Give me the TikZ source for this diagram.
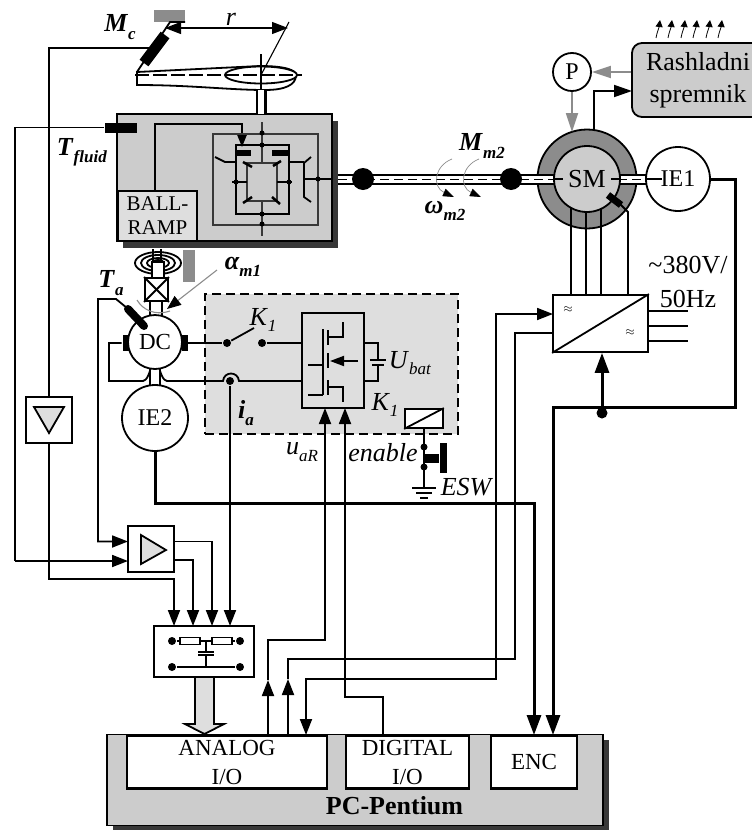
\documentclass[tikz,border=0pt]{standalone}
\usepackage{fontspec}
\setmainfont{Liberation Serif}
\usetikzlibrary{positioning,arrows.meta,shadows}
\definecolor{panel}{gray}{0.8}
\definecolor{pale}{gray}{0.87}
\definecolor{ringgray}{gray}{0.55}
\definecolor{shade}{gray}{0.22}
\newcommand{\sbf}[2]{\textbf{\textit{#1}}\raisebox{-.28em}{\fontsize{17}{17}\selectfont\textbf{\textit{#2}}}}
\newcommand{\sit}[2]{\textit{#1}\raisebox{-.25em}{\fontsize{17}{17}\selectfont\textit{#2}}}
\begin{document}
\begin{tikzpicture}[x=1pt,y=-1pt,on grid,line width=1.8pt,>={Triangle[length=16pt,width=12pt]}]
\tikzstyle{every node}=[font=\fontsize{23}{29}\selectfont,inner sep=0pt]
\tikzstyle{box}=[draw,rectangle,fill=white]
\tikzstyle{circ}=[draw,circle,fill=white]
\tikzstyle{dot}=[fill=black,circle,minimum size=8pt]
\tikzstyle{tiny dot}=[fill=black,circle,minimum size=5pt]
\tikzstyle{lbl}=[font=\fontsize{26}{32}\selectfont]
\tikzstyle{heavy}=[line width=3pt,>={Triangle[length=20pt,width=14pt]}]
\tikzstyle{thinline}=[line width=1.1pt]
\tikzstyle{graywire}=[draw=ringgray,line width=1.8pt,>={Triangle[length=19pt,width=12pt,color=ringgray]}]
\tikzstyle{sensor}=[line width=11pt]
\tikzstyle{shafta}=[line width=11pt]
\tikzstyle{shaftb}=[line width=7pt,white]
\tikzstyle{shaftc}=[line width=1pt,dash pattern=on 9pt off 5pt]
\tikzstyle{heat}=[line width=.8pt,>={Triangle[length=7pt,width=7pt]}]
\useasboundingbox (0,0) rectangle (752,830);

\node[box,fill=pale,dashed,dash pattern=on 9pt off 5pt,minimum width=253pt,minimum height=140pt](drive) at (331.5,364){};
\node[box,fill=panel,minimum width=215pt,minimum height=127pt,copy shadow={shadow xshift=6pt,shadow yshift=-7pt,fill=shade,draw=none}](gear) at (224.5,177.5){};
\node[box,fill=panel,minimum width=496pt,minimum height=91pt,copy shadow={shadow xshift=6pt,shadow yshift=-5pt,fill=shade,draw=none}](pc) at (355,780){};
\node[box,minimum width=200pt,minimum height=53pt,align=center,line width=2.2pt](analog) at (227,762){ANALOG\\I/O};
\node[box,minimum width=123pt,minimum height=53pt,align=center,line width=2.2pt](digital) at (407.5,762){DIGITAL\\I/O};
\node[box,minimum width=86pt,minimum height=53pt,line width=2.2pt](enc)[right=126.5pt of digital]{ENC};
\node[font=\fontsize{26}{30}\selectfont\bfseries](pentium) at (394.5,806){PC-Pentium};

% propeller
\node[fill=ringgray,minimum width=31pt,minimum height=12pt](mount) at (169.5,16){};
\coordinate(rleft) at (165,28);
\coordinate(rright) at (288,28);
\coordinate(hub) at (261,75);
\coordinate(tip) at (137,72);
\draw(tip)--(170,22)--(185,22);
\draw[sensor](144,63)--(165,35);
\coordinate(mcs) at (150,48);
\draw[fill=white](tip)--(137,85) .. controls (190,85) and (230,90) .. (265,90) .. controls (285,90) and (296,85) .. (296,75) .. controls (296,70) and (285,66) .. (260,66)--cycle;
\draw[fill=white](hub) ellipse (36 and 8.5);
\draw[thinline,dash pattern=on 14pt off 4pt](135,75)--(302,75);
\draw[thinline](261,54)--(261,90);
\draw[thinline](hub)--(289,22);
\draw[thinline,<->](rleft)--(rright);
\draw[line width=11pt](261,90)--(261,114);
\draw[line width=6pt,white](261,90)--(261,114);

% gear internals
\node[box,fill=pale,minimum width=79pt,minimum height=50pt,align=center,font=\fontsize{21}{24}\selectfont](ball) at (157.5,216){BALL-\\RAMP};
\node[fill=black,minimum width=32pt,minimum height=10pt](tfl) at (121,127.5){};
\coordinate(balltop) at (155,191);
\draw[->,>={Triangle[length=13pt,width=10pt]}](balltop)--(155,124)--(242,124)--(242,147);
\draw[draw=shade](213,134) rectangle (318,225);
\draw[line width=2.2pt](236,145) rectangle (289,214);
\draw[draw=shade,line width=2.2pt](247,163) rectangle (277,201);
\draw[draw=shade](262,122)--(262,163);
\draw[draw=shade](262,201)--(262,236);
\fill(236,150) rectangle (251,156);
\fill(272,150) rectangle (289,156);
\draw(236,162)--(225,162)--(215,157);
\draw(289,162)--(304,162);
\draw(311,157)--(304,163)--(304,197)--(311,202);
\draw(304,179)--(332,179);
\draw(232,182)--(247,182);
\draw(277,182)--(292,182);
\draw[line width=2.5pt](243,162)--(252,167);
\draw[line width=2.5pt](273,166)--(281,161);
\draw[line width=2.5pt](243,203)--(252,197);
\draw[line width=2.5pt](272,197)--(280,204);
\node[tiny dot](g1) at (262,133){};
\node[tiny dot](g2) at (262,145){};
\node[tiny dot](g3) at (262,214){};
\node[tiny dot](g4) at (262,224){};
\node[tiny dot](g5) at (236,182){};
\node[tiny dot](g6) at (289,182){};
\node[tiny dot](g7) at (318,179){};

% motors
\node[circ,fill=ringgray,minimum size=99pt](smo) at (587,179){};
\coordinate(shl) at (338,179);
\coordinate(shr) at (690,179);
\draw[shafta](shl)--(shr);
\draw[shaftb](shl)--(shr);
\draw[shaftc](shl)--(shr);
\coordinate(cv1) at (571,295);
\coordinate(cv2) at (586,295);
\coordinate(cv3) at (601,295);
\coordinate(cv4) at (628,295);
\draw(cv1)--(cv1 |- smo);
\draw(cv2)--(cv2 |- smo);
\draw(cv3)--(cv3 |- smo);
\node[circ,fill=panel,minimum size=66pt](sm) at (587,179){};
\draw[thinline](sm.west)--(563,179);
\draw[thinline](sm.east)--(611,179);
\node[font=\fontsize{26}{29}\selectfont](smtext) at (587,179){SM};
\draw(cv4)--(628,212)--(620,204);
\draw[line width=7pt](608,195)--(621,205);
\node[circ,minimum size=64pt,font=\fontsize{24}{29}\selectfont](ie1)[right=91pt of smo]{IE1};
\draw[thinline](ie1.west)--(662,179);
\node[circ,minimum size=38pt,font=\fontsize{24}{29}\selectfont](pump) at (572,72){P};
\node[box,fill=panel,rounded corners=10pt,minimum width=132pt,minimum height=74pt,align=center,lbl](tank) at (698,80){Rashladni\\spremnik};
\draw[graywire,->](tank.west |- pump)--(pump.east);
\draw[graywire,->](pump.south)--(572,132);
\coordinate(smtop) at (594,130);
\draw[->,>={Triangle[length=18pt,width=12pt]}](smtop)--(594,91)--(632,91);
\draw[heat,->](656,38) .. controls (657,32) and (659,28) .. (660,20);
\draw[heat,->](668,38) .. controls (669,32) and (671,28) .. (672,20);
\draw[heat,->](681,38) .. controls (682,32) and (684,28) .. (685,20);
\draw[heat,->](693,38) .. controls (694,32) and (696,28) .. (697,20);
\draw[heat,->](706,38) .. controls (707,32) and (709,28) .. (710,20);
\draw[heat,->](718,38) .. controls (719,32) and (721,28) .. (722,20);
\draw[line width=.7pt,draw=ringgray,->,>={Triangle[length=11pt,width=8pt,color=black]}](452,159) .. controls (434,166) and (432,187) .. (454,197);
\draw[line width=.7pt,draw=ringgray,->,>={Triangle[length=11pt,width=8pt,color=black]}](479,159) .. controls (461,166) and (459,187) .. (481,197);
\node[fill=black,circle,minimum size=22pt](b1) at (363,179){};
\node[fill=black,circle,minimum size=22pt](b2) at (511,179){};

% spring and coupling
\draw(158,263) ellipse (23 and 11);
\draw(158,263) ellipse (17 and 8);
\draw(158,263) ellipse (11 and 5);
\draw(158,263) ellipse (6 and 3);
\draw(153,249)--(153,262);
\draw(161,249)--(161,262);
\draw[fill=white](152,262) rectangle (164,278);
\node[fill=ringgray,minimum width=12pt,minimum height=32pt](brake) at (189,266){};
\node[box,minimum size=23pt](coup) at (156.5,289.5){};
\draw(coup.north west)--(coup.south east);
\draw(coup.north east)--(coup.south west);
\draw(150,301)--(150,318);
\draw(162,301)--(162,318);
\draw[thinline,draw=ringgray](137,300) .. controls (143,310) and (155,316) .. (170,311);
\node[circ,minimum size=54pt](dc) at (155,342){DC};
\node[fill=black,minimum width=6pt,minimum height=16pt](brl) at (125.5,343){};
\node[fill=black,minimum width=6pt,minimum height=16pt](brr) at (184.5,343){};
\node[circ,minimum size=66pt,font=\fontsize{24}{29}\selectfont](ie2) at (155,418){IE2};
\draw(150,369)--(150,385);
\draw(160,369)--(160,385);

% drive
\node[box,fill=pale,minimum width=62pt,minimum height=95pt](mos) at (333,360.5){};
\node[dot](k1a) at (227,343){};
\node[dot](k1b) at (262,343){};
\node[dot](iadot) at (230,381){};
\coordinate(mosa) at (302,343);
\coordinate(mosb) at (302,381);
\coordinate(mosc) at (364,343);
\coordinate(mosd) at (364,381);
\draw(brr.east)--(k1a);
\draw(k1a)--(254,328);
\draw(k1b)--(mosa);
\draw(brl.west)--(109,343)--(109,381)--(143,381) .. controls (147,380) and (148,376) .. (150,371);
\draw(160,371) .. controls (162,376) and (163,380) .. (167,381)--(223,381) .. controls (224,371) and (238,371) .. (239,381)--(mosb);
\draw(mosc)--(378,343)--(378,360);
\draw(378,365)--(378,381)--(mosd);
\draw(370,360)--(386,360);
\draw[line width=2.5pt](372,365)--(384,365);
\draw(323,329)--(323,395);
\draw[line width=2.2pt](328,330)--(328,345);
\draw[line width=2.2pt](328,353)--(328,368);
\draw[line width=2.2pt](328,380)--(328,395);
\draw(328,337)--(343,337)--(343,322);
\draw(308,365)--(323,365);
\draw(308,395)--(323,395);
\draw(328,387)--(343,387)--(343,402);
\draw[->,>={Triangle[length=14pt,width=10pt]}](358,361)--(330,361);
\node[box,minimum width=38pt,minimum height=19pt](relay) at (424,418.5){};
\draw(relay.south west)--(relay.north east);
\coordinate(gnd) at (424,488);
\draw(relay.south)--(gnd);
\node[dot,minimum size=7pt](sw1) at (424,447){};
\node[dot,minimum size=7pt](sw2) at (424,467){};
\draw[line width=9pt](424,458)--(439,458);
\draw[line width=7pt](443,443)--(443,473);
\draw(412,488)--(436,488);
\draw(416,493)--(432,493);
\draw(420,498)--(428,498);

% converter
\node[box,minimum width=95pt,minimum height=57pt](conv) at (600.5,323.5){};
\draw(conv.south west)--(conv.north east);
\node[font=\fontsize{13}{13}\selectfont](ac1) at (568,310){$\approx$};
\node[font=\fontsize{13}{13}\selectfont](ac2) at (630,333){$\approx$};
\draw(conv.east |- 0,311)--(688,311);
\draw(conv.east |- 0,326)--(688,326);
\draw(conv.east |- 0,341)--(688,341);

% filter and amplifier
\node[box,minimum width=100pt,minimum height=51pt](filter) at (204,651.5){};
\node[dot](f1) at (172,641){};
\node[dot](f2) at (240,641){};
\node[dot](f3) at (172,667){};
\node[dot](f4) at (240,667){};
\draw[thinline](f1)--(f2);
\node[box,thinline,minimum width=20pt,minimum height=7pt](r1) at (190,641){};
\node[box,thinline,minimum width=20pt,minimum height=7pt](r2) at (222,641){};
\draw(f3)--(f4);
\draw[thinline](206,641)--(206,652);
\draw[thinline](206,655)--(206,667);
\draw(198,652)--(214,652);
\draw(198,655)--(214,655);
\node[box,minimum size=46pt](amp) at (151,549){};
\draw[fill=pale](141,535)--(166,550)--(141,564)--cycle;
\node[box,minimum size=46pt](inv) at (49,420){};
\draw[fill=pale](34,407)--(64,407)--(49,433)--cycle;
\draw[fill=pale](195,677)--(195,724)--(185,724)--(204.5,734)--(224,724)--(214,724)--(214,677)--cycle;

% wires
\coordinate(fa) at (174,626);
\coordinate(fb) at (193,626);
\coordinate(fc) at (212,626);
\coordinate(fd) at (230,626);
\coordinate(ampa) at (128,541.5);
\coordinate(ampb) at (128,561);
\coordinate(ampc) at (174,541.5);
\coordinate(ampd) at (174,560);
\coordinate(tas) at (127,308);
\draw(mcs)-|(inv.north);
\draw[->](inv.south)--(49,579)--(174,579)--(fa);
\draw(tfl.west)--(15,127.5)--(15,561);
\draw[->](15,561)--(ampb);
\draw[->](tas)--(116,299)--(98,299)--(98,541.5)--(ampa);
\draw[->](ampc)-|(fc);
\draw[->](ampd)-|(fb);
\draw[->](iadot)--(fd);
\draw[line width=8pt,line cap=round](128,309)--(144,326);
\coordinate(an1) at (268,735);
\coordinate(an2) at (288,735);
\coordinate(an3) at (306,735);
\coordinate(dg1) at (383,735);
\coordinate(ua) at (326,408);
\coordinate(en) at (345,408);
\coordinate(cvl1) at (553,314);
\coordinate(cvl2) at (553,333);
\coordinate(enc1) at (534,735);
\coordinate(enc2) at (553,735);
\draw[->](an1)--(268,680);
\draw[->](268,680)--(268,640)--(325,640)--(ua -| 325,0);
\draw[->](an2)--(288,679);
\draw(288,679)--(288,659)--(515,659)--(515,333)--(cvl2);
\draw[<->](an3)--(306,679)--(496,679)--(496,314)--(cvl1);
\draw[->](dg1)--(383,697)--(345,697)--(en);
\draw[heavy,->](ie2.south)--(155,503)--(534,503)--(enc1);
\draw[heavy,->](ie1.east)--(735,179)--(735,407)--(553,407)--(enc2);
\node[dot,minimum size=11pt](join) at (602,413){};
\draw[heavy,->](602,407)--(conv.south -| 602,0);

\draw[thinline,draw=ringgray,->,>={Triangle[length=14pt,width=11pt,color=black]}](217,270)--(167,309);

% labels
\node[lbl](lMc) at (120,27){\sbf{M}{c}};
\node[lbl](lr) at (231,19){\textit{r}};
\node[lbl](lTf) at (82,152){\sbf{T}{fluid}};
\node[lbl](lTa) at (111,283){\sbf{T}{a}};
\node[lbl](lam) at (243,267){\sbf{α}{m1}};
\node[lbl](lMm) at (482,146){\sbf{M}{m2}};
\node[lbl](lom) at (445,211){\sbf{ω}{m2}};
\node[lbl](lK1) at (263,320){\sit{K}{1}};
\node[lbl](lK2) at (385,405){\sit{K}{1}};
\node[lbl](lU) at (410,363){\sit{U}{bat}};
\node[lbl](lia) at (246,413){\sbf{i}{a}};
\node[lbl](lua) at (302,452){\sit{u}{aR}};
\node[lbl](len) at (383,453){\textit{enable}};
\node[lbl](lesw) at (467,487){\textit{ESW}};
\node[lbl](lv) at (688,265){\textasciitilde380V/};
\node[lbl](lhz) at (688,299){50Hz};
\end{tikzpicture}
\end{document}
